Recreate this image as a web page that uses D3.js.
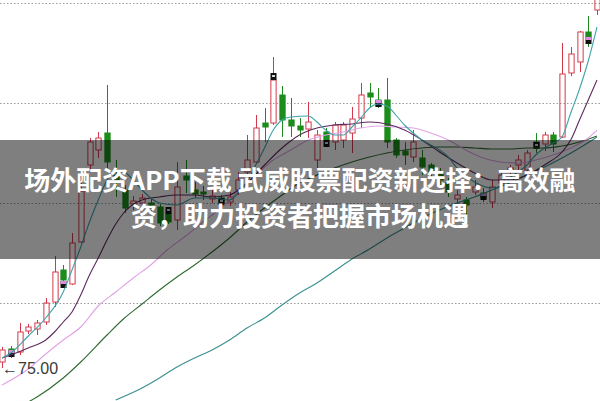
<!DOCTYPE html>
<html><head><meta charset="utf-8">
<script src="https://cdn.jsdelivr.net/npm/d3@7"></script>
<style>html,body{margin:0;padding:0;background:#fff;overflow:hidden}</style>
</head><body><svg id="c" width="600" height="401"></svg>
<script>
// Candle values (price units)
const opens  = [75.6,76.9,76.6,78.7,78.9,79.6,81.6,84.8,83.4,87.6,95.3,96.8,98.5,94.3,92.8,91.4,91.5,91.5,91.1,90.4,89.8,94.2,92.8,92.6,91.9,92.0,91.6,92.8,94.6,95.6,99.5,99.5,102.3,99.8,99.2,98.9,95.8,98.6,97.6,97.8,98.5,100.0,102.5,101.8,101.8,97.8,96.7,96.1,96.0,95.3,94.6,93.5,91.9,91.8,92.6,92.5,91.6,93.5,94.6,95.3,94.8,97.6,97.4,98.3,98.1,104.5,105.6,108.6,110.8];
const closes = [76.8,76.4,78.6,79.1,79.5,81.5,84.6,83.8,87.5,92.7,97.6,98.0,95.6,93.8,91.0,91.7,92.0,91.1,89.5,89.6,93.1,93.8,92.4,92.4,92.2,91.5,92.1,93.8,95.8,99.0,99.1,103.8,99.8,99.2,98.8,99.6,98.3,97.8,99.3,99.3,99.9,102.3,102.1,101.2,97.6,96.3,96.3,97.6,95.1,94.6,93.8,92.6,92.3,91.3,93.1,92.0,93.1,94.3,95.0,95.8,96.5,97.0,98.3,97.4,104.4,106.4,108.6,108.1,112.8];
const highs  = [77.1,77.2,79.5,79.4,79.8,82.0,86.2,85.3,88.5,94.3,98.0,98.6,103.3,95.8,93.3,92.2,92.4,92.0,91.4,90.6,95.6,95.8,93.6,93.2,92.8,92.3,92.6,94.6,98.3,100.3,101.0,106.1,103.2,102.0,100.0,101.6,98.8,99.0,99.6,99.6,101.1,103.5,103.5,103.0,104.0,98.0,97.6,98.8,96.8,95.5,95.0,94.0,92.8,92.1,93.8,93.0,93.8,94.8,95.3,96.3,96.8,98.5,98.6,98.6,107.5,107.1,108.7,110.2,113.8];
const lows   = [75.0,76.0,76.3,78.4,78.3,79.3,81.1,83.1,83.3,87.5,94.6,96.0,95.0,92.1,90.5,90.8,91.2,90.6,89.2,89.4,88.8,92.5,92.0,91.8,91.5,91.2,91.2,92.3,94.2,95.4,97.6,99.3,98.1,98.1,98.1,98.0,94.8,97.2,96.8,97.0,96.5,99.0,101.1,101.0,97.0,96.0,95.3,95.6,94.3,94.0,93.3,92.1,91.3,90.3,92.3,91.6,91.0,93.2,94.3,94.8,94.6,96.5,96.7,96.6,98.0,104.2,104.6,107.1,110.3];
const days = d3.range(opens.length).map(i => "D" + (i + 1));

// Moving-average lines: [candle index, value]
const ma5  = [[0,76.0],[1,76.5],[3,78.2],[5,80.0],[7,82.6],[8,84.8],[9,87.1],[10,89.6],[11,91.8],[12,93.8],[13,94.8],[14,94.6],[15,93.8],[16,92.8],[18,91.5],[20,91.3],[22,92.0],[24,92.0],[26,91.8],[27,92.5],[28,93.6],[29,95.3],[30,97.0],[31,98.8],[32,99.8],[33,100.1],[35,100.2],[36,99.6],[37,98.8],[38,98.3],[39,98.3],[40,99.1],[41,100.0],[42,101.0],[43,101.4],[44,101.2],[45,100.3],[46,99.3],[47,98.5],[48,97.8],[50,96.8],[51,96.1],[52,95.0],[54,93.6],[56,93.0],[57,93.2],[58,94.0],[60,95.3],[61,96.3],[62,97.0],[63,97.5],[64,98.1],[65,100.5],[66,102.9],[67,105.7],[68,109.1]];
const ma10 = [[0,76.0],[1,76.3],[3,77.0],[5,77.8],[6,78.6],[7,79.6],[8,80.6],[9,82.3],[10,84.3],[11,86.0],[12,87.8],[13,89.4],[14,90.6],[16,91.8],[18,92.1],[20,92.3],[22,92.3],[24,92.1],[26,92.3],[28,93.5],[30,95.3],[32,97.0],[34,98.3],[36,99.0],[38,99.3],[40,99.4],[42,99.6],[44,99.4],[46,98.8],[48,97.8],[50,96.6],[52,95.5],[54,94.5],[56,93.8],[58,93.8],[60,94.3],[62,95.3],[64,96.6],[65,97.8],[66,99.8],[67,101.8],[68,103.8]];
const ma20 = [[0,73.3],[3,74.9],[5,76.4],[7,77.8],[9,79.1],[11,81.2],[13,82.6],[15,84.0],[17,85.3],[19,86.9],[21,88.2],[23,89.6],[25,91.0],[27,92.6],[29,94.3],[31,95.8],[33,96.8],[35,97.8],[37,98.3],[39,98.6],[41,99.0],[43,99.2],[45,99.1],[47,99.0],[49,98.5],[51,97.8],[53,96.8],[55,96.0],[57,95.6],[59,95.5],[61,95.8],[63,96.3],[65,97.0],[67,98.0],[68,98.8]];
const ma30 = [[3,71.6],[4,72.1],[7,74.0],[9,75.6],[12,78.3],[14,80.0],[16,81.4],[18,82.8],[20,84.1],[22,85.3],[24,86.6],[26,88.0],[28,89.6],[30,91.0],[32,92.3],[34,93.5],[36,94.3],[38,95.0],[40,95.6],[42,96.1],[44,96.5],[46,96.8],[48,97.0],[50,97.1],[52,97.1],[54,97.0],[56,96.9],[58,96.9],[60,97.0],[62,97.0],[64,97.2],[66,97.6],[68,98.2]];
const ma60 = [[13,71.8],[16,73.0],[18,74.0],[20,75.1],[22,76.0],[24,76.8],[26,77.8],[28,79.0],[30,80.0],[32,81.3],[34,82.5],[36,83.5],[38,84.7],[40,85.9],[42,86.9],[44,88.0],[46,89.0],[48,90.0],[50,90.8],[52,91.5],[54,92.1],[56,92.8],[58,93.5],[60,94.3],[62,95.1],[64,96.0],[66,97.0],[68,98.1]];

// Signal markers on candles
const markIdx  = [1,7,19,25,31,37,43,55,61,67];
const markTop  = [76.8,83.7,91.1,92.0,104.5,97.8,101.8,92.5,97.6,108.1];
const markPink = [true,true,false,false,false,false,true,true,false,true];

const gridVals = [81.5,91.5,101.5,111.5];
const lowValue = 75.00;
const lowLabel = "\u219075.00";
const bannerLines = ["场外配资APP下载 武威股票配资新选择：高效融", "资，助力投资者把握市场机遇"];

const W = 600, H = 401;
const svg = d3.select("#c");
const y = d3.scaleLinear().domain([75, 111.5]).range([368, 3]);
const x = d3.scaleBand().domain(days).range([-2.375, 601.375]).paddingInner(0.4).paddingOuter(0.2);
const bw = x.bandwidth();
const cx = i => x(days[i]) + bw / 2;

const RED = "#d23a4c", GREEN = "#1c8c1c";

// grid
svg.append("g").selectAll("line").data(gridVals).join("line")
  .attr("x1", 0).attr("x2", W)
  .attr("y1", d => Math.round(y(d)) + 0.5).attr("y2", d => Math.round(y(d)) + 0.5)
  .attr("stroke", "#9a9a9a").attr("stroke-width", 1).attr("stroke-dasharray", "1.5,2");

// candles
const cg = svg.append("g");
days.forEach((d, i) => {
  const o = opens[i], c = closes[i], h = highs[i], l = lows[i];
  const up = c >= o;
  const col = up ? RED : GREEN;
  const top = y(Math.max(o, c)), bot = y(Math.min(o, c));
  const xc = Math.round(cx(i)) + 0.5;
  cg.append("line").attr("x1", xc).attr("x2", xc).attr("y1", y(h)).attr("y2", top).attr("stroke", col);
  cg.append("line").attr("x1", xc).attr("x2", xc).attr("y1", bot).attr("y2", y(l)).attr("stroke", col);
  cg.append("rect").attr("x", xc - bw / 2).attr("width", bw)
    .attr("y", top).attr("height", Math.max(1, bot - top))
    .attr("fill", up ? "none" : col).attr("stroke", col).attr("stroke-width", 1);
});

// markers
markIdx.forEach((i, k) => {
  const xc = Math.round(cx(i)) + 0.5;
  const t = y(markTop[k]);
  cg.append("rect").attr("x", xc - 3).attr("y", t).attr("width", 6).attr("height", 7).attr("fill", "#111");
  if (markPink[k]) cg.append("rect").attr("x", xc - 3).attr("y", t).attr("width", 6).attr("height", 3).attr("fill", "#e08ee0");
  else cg.append("rect").attr("x", xc - 1.5).attr("y", t + 2).attr("width", 3).attr("height", 2).attr("fill", "#cfd8e0");
});

// moving averages
const line = d3.line().x(p => cx(p[0])).y(p => y(p[1])).curve(d3.curveMonotoneX);
const mas = [
  {d: ma60, c: "#3a9090"},
  {d: ma30, c: "#2e6a30"},
  {d: ma20, c: "#e2a2e6"},
  {d: ma10, c: "#5e2a5e"},
  {d: ma5,  c: "#3fa2a8"}
];
svg.append("g").selectAll("path").data(mas).join("path")
  .attr("d", m => line(m.d)).attr("fill", "none").attr("stroke", m => m.c).attr("stroke-width", 1.1);

// low label
svg.append("text").attr("x", 2).attr("y", y(lowValue) + 6)
  .attr("font-family", "Liberation Sans, Arial, sans-serif").attr("font-size", 16)
  .attr("fill", "#3a3a3a").text(lowLabel);

// banner
svg.append("rect").attr("x", 0).attr("y", 140).attr("width", W).attr("height", 119).attr("fill", "rgba(0,0,0,0.5)");
svg.append("g").selectAll("text").data(bannerLines).join("text")
  .attr("x", 300).attr("y", (d, i) => 190 + i * 36)
  .attr("text-anchor", "middle")
  .attr("font-family", "Noto Sans CJK SC, sans-serif").attr("font-weight", "bold").attr("font-size", 26)
  .attr("fill", "#fff").text(d => d);
</script></body></html>
